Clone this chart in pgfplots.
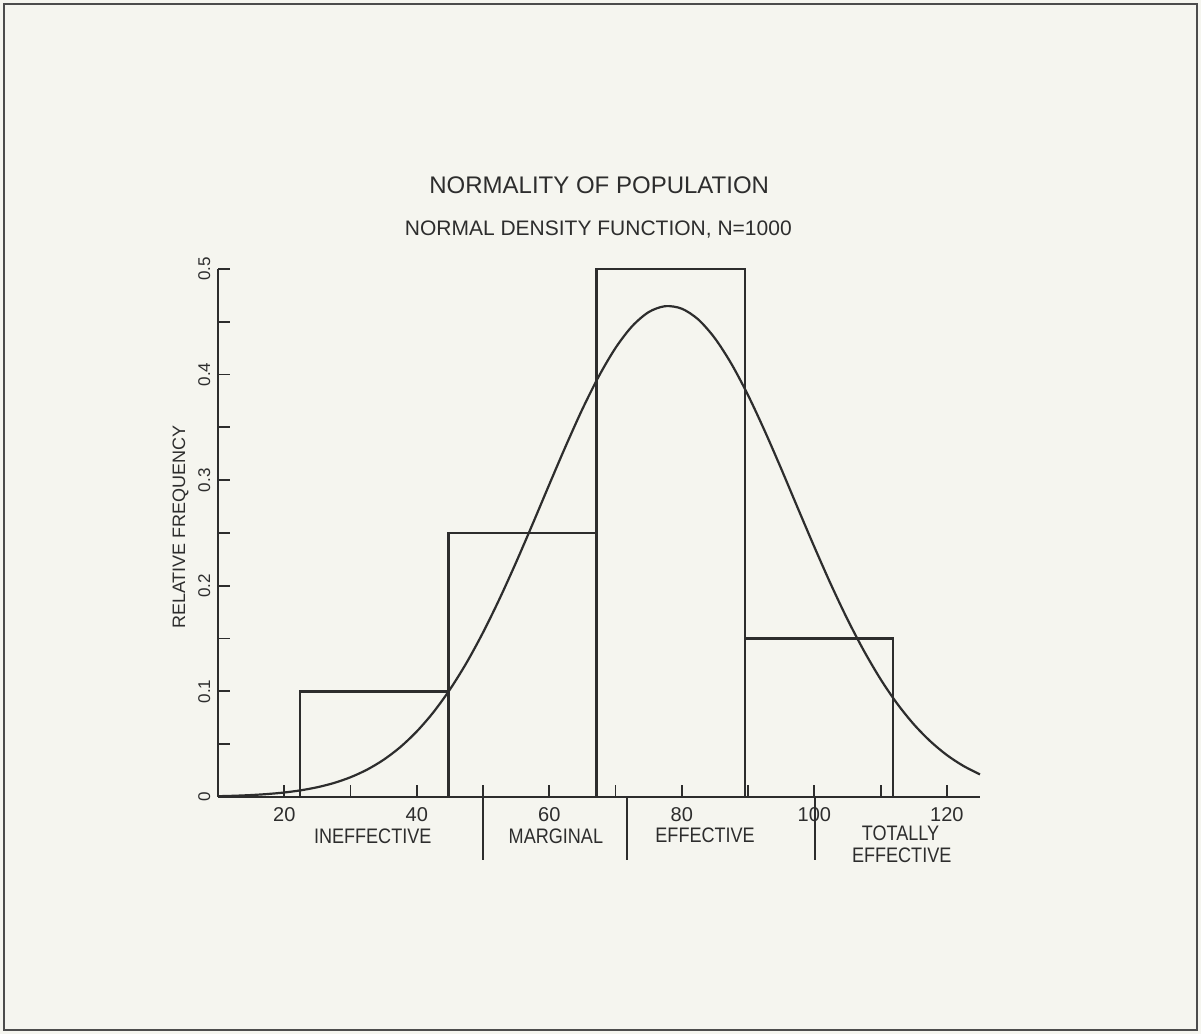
\documentclass[border=0pt]{standalone}
\usepackage{fontspec}
\setmainfont{Liberation Sans}
\newfontfamily\narrowfont[FakeStretch=0.86]{Liberation Sans}
\usepackage{pgfplots}
\pgfplotsset{compat=1.18}
\definecolor{paper}{RGB}{245,245,239}
\definecolor{ink}{RGB}{45,45,45}
\begin{document}
\begin{tikzpicture}[x=0.5pt,y=0.5pt]
\fill[paper] (0,0) rectangle (1201,1034);
\draw[ink!85, line width=1pt] (4,4) rectangle (1197,1030);
\begin{axis}[
  at={(109pt,118.5pt)}, anchor=south west, scale only axis,
  width=381pt, height=264pt,
  xmin=10, xmax=125, ymin=0, ymax=0.5,
  axis x line=bottom, axis y line=left,
  axis line style={-, ink, line width=1.3pt},
  xtick={20,30,40,50,60,70,80,90,100,110,120},
  xticklabels={20,,40,,60,,80,,100,,120},
  ytick={0,0.05,0.1,0.15,0.2,0.25,0.3,0.35,0.4,0.45,0.5},
  yticklabels={0,,0.1,,0.2,,0.3,,0.4,,0.5},
  tick align=inside, major tick length=6pt,
  every tick/.style={ink, line width=0.9pt},
  xticklabel style={font=\fontsize{10}{12}\selectfont, anchor=base, text=ink},
  xticklabel shift=12.5pt,
  yticklabel style={font=\fontsize{8.5}{10}\selectfont, rotate=90, anchor=base, text=ink},
  yticklabel shift=4pt,
  clip=false,
]
\addplot[ybar interval, draw=ink, fill=none, line width=1.2pt]
  coordinates {(22.4,0.1) (44.8,0.25) (67.1,0.5) (89.5,0.15) (111.9,0.15)};
\addplot[smooth, ink, line width=1.1pt, mark=none] coordinates {
(10,0.00074) (12.5,0.00117) (15,0.00183) (17.5,0.00282) (20,0.00426)
(22.5,0.00634) (25,0.00925) (27.5,0.01327) (30,0.01871) (32.5,0.02591)
(35,0.03527) (37.5,0.04719) (40,0.06207) (42.5,0.08018) (45,0.1018)
(47.5,0.1270) (50,0.1558) (52.5,0.1878) (55,0.2224) (57.5,0.2588)
(60,0.2960) (62.5,0.3326) (65,0.3674) (67.5,0.3987) (70,0.4253)
(72.5,0.4458) (75,0.4592) (77.5,0.4648) (80,0.4624) (82.5,0.4521)
(85,0.4343) (87.5,0.4100) (90,0.3804) (92.5,0.3468) (95,0.3108)
(97.5,0.2736) (100,0.2368) (102.5,0.2013) (105,0.1682) (107.5,0.1382)
(110,0.1115) (112.5,0.0884) (115,0.0689) (117.5,0.0528) (120,0.0397)
(122.5,0.0294) (125,0.0214)};
\end{axis}
% category dividers below the axis
\draw[ink, line width=0.9pt] (483.2,237) -- (483.2,174);
\draw[ink, line width=0.9pt] (627.1,237) -- (627.1,174);
\draw[ink, line width=0.9pt] (814.8,237) -- (814.8,174);
% category labels
\begin{scope}[every node/.style={anchor=base, text=ink, inner sep=0pt, font=\narrowfont\fontsize{10.5}{12}\selectfont}]
\node at (372.7,190) {INEFFECTIVE};
\node at (555.9,190) {MARGINAL};
\node at (705.1,191) {EFFECTIVE};
\node at (900.5,193) {TOTALLY};
\node at (901.7,171) {EFFECTIVE};
\end{scope}
% titles
\node[anchor=base, text=ink, inner sep=0pt, font=\fontsize{12}{14}\selectfont] at (599.2,840) {NORMALITY OF POPULATION};
\node[anchor=base, text=ink, inner sep=0pt, font=\fontsize{10.5}{12}\selectfont] at (598.3,798) {NORMAL DENSITY FUNCTION, N=1000};
% y label
\node[rotate=90, anchor=base, text=ink, inner sep=0pt, font=\fontsize{9}{11}\selectfont] at (185,507) {RELATIVE FREQUENCY};
\end{tikzpicture}
\end{document}
